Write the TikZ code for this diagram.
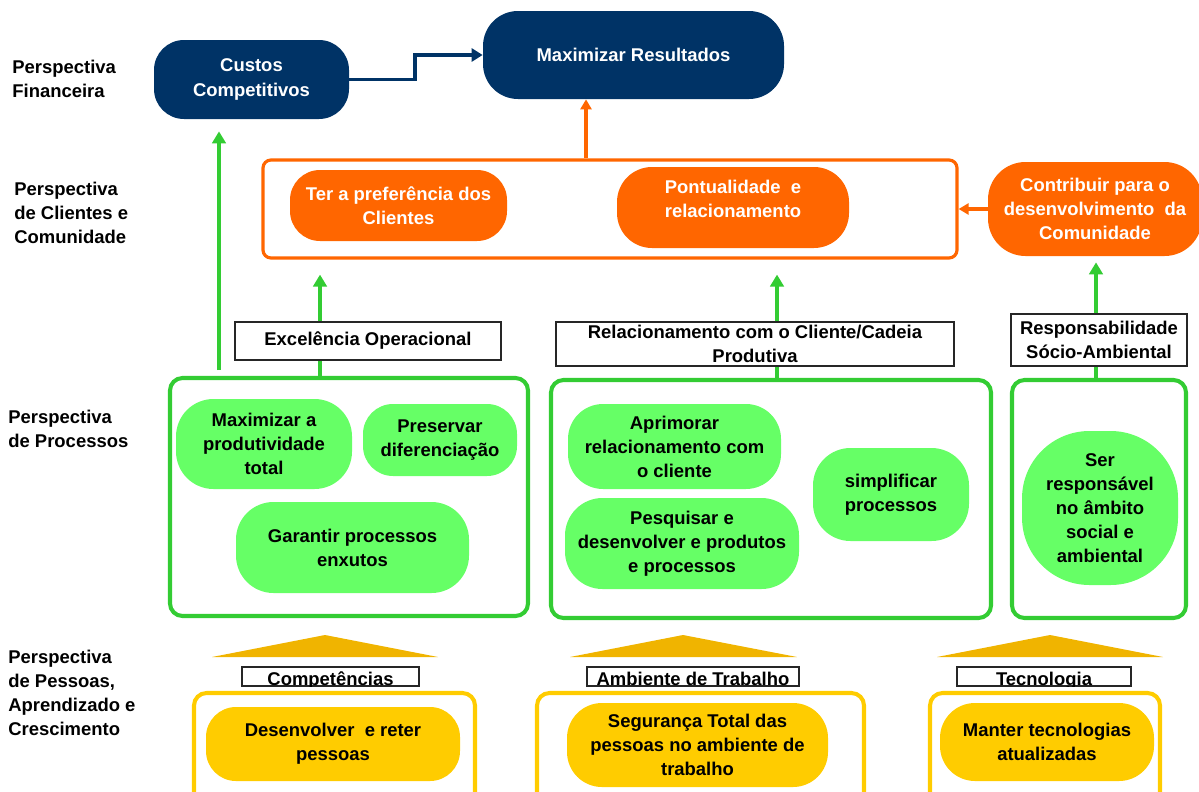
\documentclass[tikz,border=0pt]{standalone}
\usepackage{fontspec}
\setmainfont{Liberation Sans}
\usetikzlibrary{arrows.meta}
\definecolor{navy}{HTML}{003366}
\definecolor{laranja}{HTML}{FF6600}
\definecolor{verde}{HTML}{33CC33}
\definecolor{verdeclaro}{HTML}{66FF66}
\definecolor{ouro}{HTML}{F0B400}
\definecolor{amarelo}{HTML}{FFCC00}

\begin{document}
\begin{tikzpicture}[x=0.02cm, y=-0.02cm,
    font=\fontsize{10.5}{13.7}\selectfont\bfseries,
    wh/.style 2 args={minimum width=#1*0.02cm, minimum height=#2*0.02cm},
    caixa/.style={rounded corners=0.6cm, inner sep=0pt, align=center},
    azul/.style={caixa, fill=navy, text=white},
    lar/.style={caixa, fill=laranja, text=white},
    vd/.style={caixa, fill=verdeclaro},
    am/.style={caixa, fill=amarelo},
    rotulo/.style={draw=black!85, line width=0.8pt, inner sep=0pt, align=center},
    moldura/.style={line width=2.3pt, rounded corners=0.25cm, inner sep=0pt},
    setav/.style={draw=verde, line width=2.5pt, -{Triangle[length=0.24cm, width=0.27cm]}},
    setal/.style={draw=laranja, line width=1.8pt, -{Triangle[length=0.2cm, width=0.22cm]}}]
  \clip (0,0) rectangle (1199,791);
  % perspectivas
  \foreach \n/\x/\y/\t in {fin/12/78.5/{Perspectiva\\Financeira},
      cli/14/213/{Perspectiva\\de Clientes e\\Comunidade},
      proc/8/429/{Perspectiva\\de Processos},
      pes/8/693/{Perspectiva\\de Pessoas,\\Aprendizado e\\Crescimento}} {
    \node[anchor=west, align=left, inner sep=0pt] (p\n) at (\x,\y) {\t};
  }
  % financeira
  \node[azul, wh={195}{79}] (custos) at (251.5,79.5) {Custos\\Competitivos};
  \node[azul, rounded corners=0.7cm, wh={301}{88}] (maxres) at (633.5,55) {Maximizar Resultados};
  \draw[navy, line width=2.2pt, -{Triangle[length=0.22cm, width=0.26cm]}]
    (custos.east) -- ++(66,0) |- (maxres.west);
  % clientes e comunidade
  \node[moldura, draw=laranja, line width=1.8pt, rounded corners=0.16cm, wh={694}{98}]
    (clibox) at (610,209) {};
  \node[lar, wh={217}{71}] (pref) at (398.5,205.5) {Ter a preferência dos\\Clientes};
  \node[lar, rounded corners=0.7cm, text depth=0.34cm, wh={232}{81}] (pont) at (733,207.5)
    {Pontualidade~ e\\relacionamento};
  \node[lar, rounded corners=0.75cm, wh={214}{94}] (contrib) at (1095,209)
    {Contribuir para o\\desenvolvimento~ da\\Comunidade};
  \draw[setal] (contrib.west) -- (clibox.east);
  \coordinate (ofoot) at ([xshift=-0.48cm]clibox.north);
  \draw[setal] (ofoot) -- (ofoot |- maxres.south);
  % processos
  \node[rotulo, wh={266}{38}] (exc) at (368,341) {Excelência Operacional};
  \node[rotulo, wh={398}{44}] (rel) at (755,344) {Relacionamento com o Cliente/Cadeia\\Produtiva};
  \node[rotulo, wh={176}{52}] (resp) at (1099,340) {Responsabilidade\\Sócio-Ambiental};
  \node[moldura, draw=verde, wh={358}{238}] (proc1) at (349,497) {};
  \node[moldura, draw=verde, wh={440}{238}] (proc2) at (771,499) {};
  \node[moldura, draw=verde, wh={174}{238}] (proc3) at (1099,499) {};
  \node[vd, rounded corners=0.75cm, wh={176}{90}] (maxprod) at (264,444) {Maximizar a\\produtividade\\total};
  \node[vd, wh={154}{72}] (preserv) at (440,440) {Preservar\\diferenciação};
  \node[vd, rounded corners=0.75cm, wh={233}{91}] (garant) at (352.5,547.5) {Garantir processos\\enxutos};
  \node[vd, rounded corners=0.7cm, wh={213}{85}] (aprim) at (674.5,446.5) {Aprimorar\\relacionamento com\\o cliente};
  \node[vd, rounded corners=0.75cm, wh={234}{91}] (pesq) at (682,543.5) {Pesquisar e\\desenvolver e produtos\\e processos};
  \node[vd, rounded corners=0.75cm, wh={156}{93}] (simpl) at (891,494.5) {simplificar\\processos};
  \node[vd, rounded corners=1.35cm, wh={156}{154}] (ser) at (1100,508) {Ser\\responsável\\no âmbito\\social e\\ambiental};
  % ligacoes verdes
  \coordinate (g1) at (219,370);
  \draw[setav, shorten >=0.24cm] (g1) -- (g1 |- custos.south);
  \coordinate (g2) at (320,378);
  \draw[verde, line width=2.5pt] (g2) -- (g2 |- exc.south);
  \draw[setav, shorten >=0.3cm] (g2 |- exc.north) -- (g2 |- clibox.south);
  \coordinate (g3) at (777,380);
  \draw[verde, line width=2.5pt] (g3) -- (g3 |- rel.south);
  \draw[setav, shorten >=0.3cm] (g3 |- rel.north) -- (g3 |- clibox.south);
  \coordinate (g4) at (1096,380);
  \draw[verde, line width=2.5pt] (g4) -- (g4 |- resp.south);
  \draw[setav, shorten >=0.12cm] (g4 |- resp.north) -- (g4 |- contrib.south);
  % pessoas, aprendizado e crescimento
  \foreach \a/\b/\c in {212/325/438, 570/683/797, 937/1050/1163}
    \fill[ouro] (\a,657) -- (\b,635) -- (\c,657) -- cycle;
  \foreach \n/\x/\w/\t in {comp/330.5/177/Competências, amb/693/212/Ambiente de Trabalho,
      tec/1044/174/Tecnologia} {
    \node[rotulo, wh={\w}{19}] (\n) at (\x,676.5) {};
    \begin{scope}
      \clip (\n.south west) rectangle (\n.north east);
      \node[anchor=base, inner sep=0pt] (\n txt) at ([yshift=0.5pt]\n.south) {\t};
    \end{scope}
  }
  \node[moldura, draw=amarelo, wh={281}{117}] (pess1) at (334.5,751.5) {};
  \node[moldura, draw=amarelo, wh={327}{117}] (pess2) at (700.5,751.5) {};
  \node[moldura, draw=amarelo, wh={230}{117}] (pess3) at (1045,751.5) {};
  \node[am, wh={254}{74}] (desenv) at (333,744) {Desenvolver~ e reter\\pessoas};
  \node[am, rounded corners=0.7cm, wh={261}{84}] (segur) at (697.5,745) {Segurança Total das\\pessoas no ambiente de\\trabalho};
  \node[am, rounded corners=0.7cm, wh={214}{78}] (manter) at (1047,742) {Manter tecnologias\\atualizadas};
\end{tikzpicture}
\end{document}
